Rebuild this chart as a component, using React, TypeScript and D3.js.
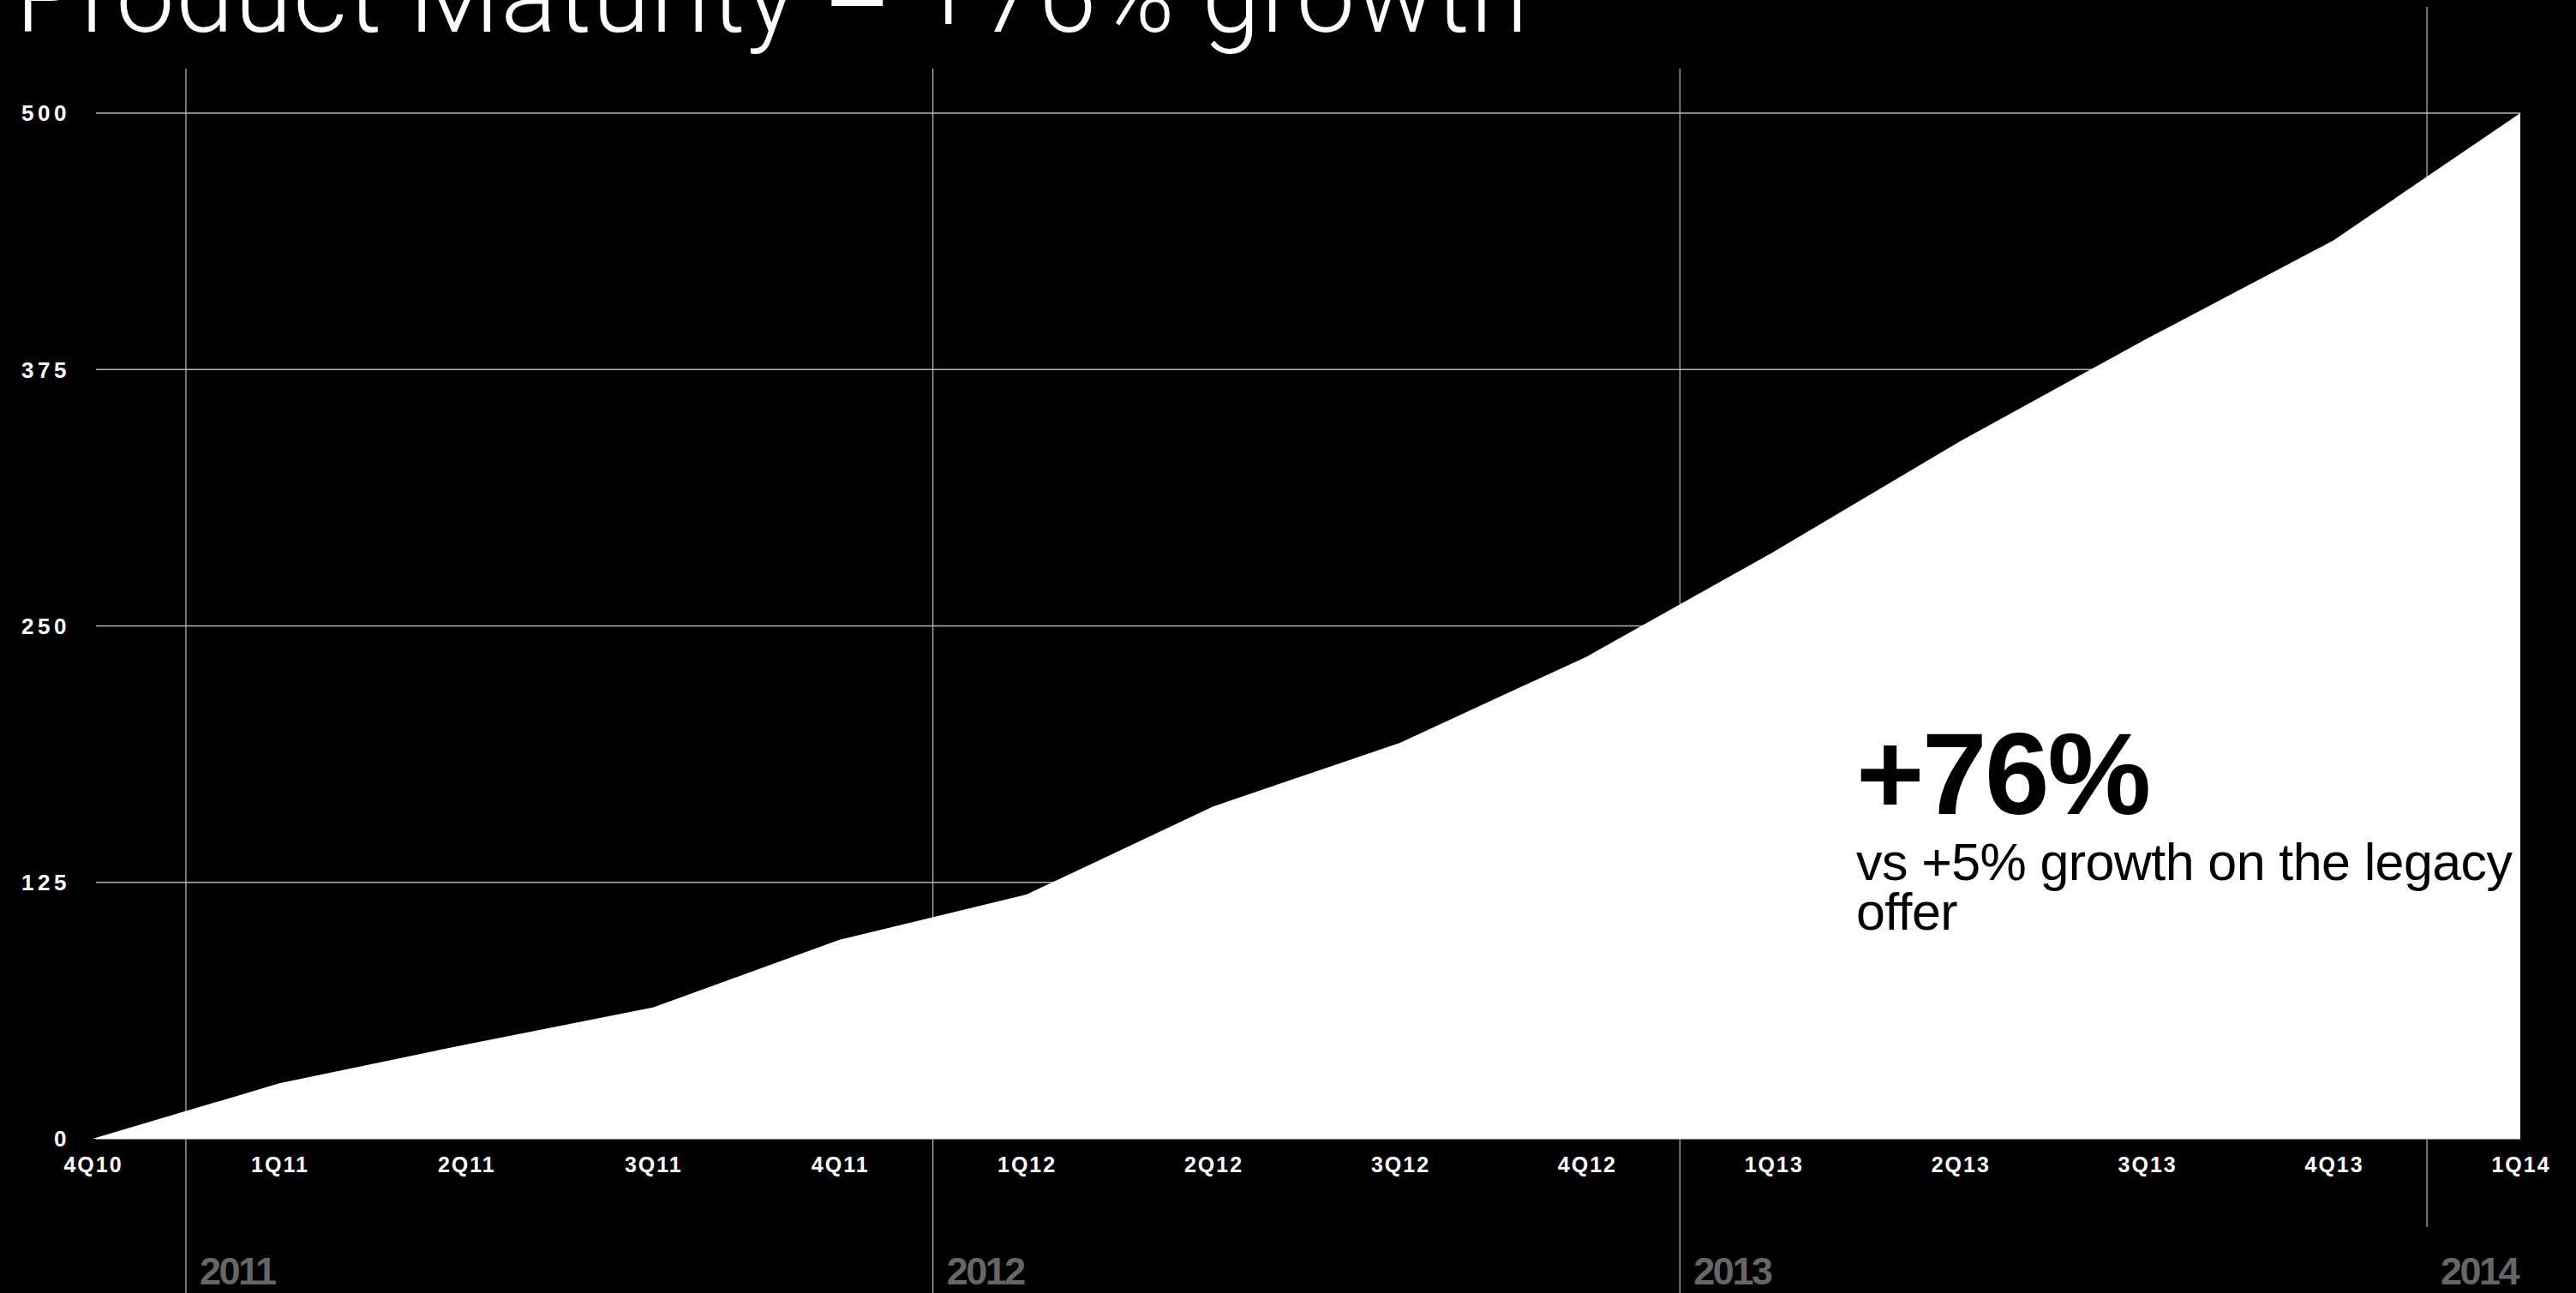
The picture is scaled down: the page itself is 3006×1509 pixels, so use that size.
import React, { useEffect } from "react";
import * as d3 from "d3";

const quarters = ["4Q10","1Q11","2Q11","3Q11","4Q11","1Q12","2Q12","3Q12","4Q12","1Q13","2Q13","3Q13","4Q13","1Q14"];
const values = [0, 27, 46, 64, 97, 119, 162, 193, 235, 286, 340, 390, 438, 500];
const yTicks = [0, 125, 250, 375, 500];
const years = ["2011", "2012", "2013", "2014"];
const yearStartIndex = [1, 5, 9, 13];
const titleParts = ["Product Maturity ", "–", " +76% growth"];
const bigStat = "+76%";
const subLines = ["vs +5% growth on the legacy", "offer"];

const W = 3006;
const H = 1509;

export default function App() {
  useEffect(() => {
    document.body.style.margin = "0";
    document.body.style.background = "#000";
  }, []);

  const x = d3.scaleLinear().domain([0, quarters.length - 1]).range([108, 2941]);
  const y = d3.scaleLinear().domain([0, 500]).range([1329, 132]);

  const area = d3
    .area<number>()
    .x((_, i) => x(i))
    .y0(y(0))
    .y1((d) => y(d))
    .curve(d3.curveLinear);

  const tickFont = "'Liberation Sans', Arial, Helvetica, sans-serif";

  return (
    <svg width={W} height={H} viewBox={`0 0 ${W} ${H}`} style={{ display: "block", background: "#000" }}>
      <rect x={0} y={0} width={W} height={H} fill="#000" />
      {/* title (partly cut off at top) */}
      <text
        x={18}
        y={37}
        fill="#fff"
        fontFamily="Roboto, 'Liberation Sans', sans-serif"
        fontWeight={300}
        fontSize={122}
        textLength={1765}
        lengthAdjust="spacing"
      >
        <tspan>{titleParts[0]}</tspan>
        <tspan dy={9} fontWeight={400}>{titleParts[1]}</tspan>
        <tspan dy={-9}>{titleParts[2]}</tspan>
      </text>

      {/* horizontal gridlines */}
      {yTicks.map((t) => (
        <line key={"g" + t} x1={112} x2={x(quarters.length - 1)} y1={y(t)} y2={y(t)} stroke="#b4b4b4" strokeWidth={1.3} />
      ))}

      {/* year divider lines */}
      {years.map((yr, k) => {
        const xx = x(yearStartIndex[k] - 0.5);
        const last = k === years.length - 1;
        return (
          <line key={"v" + yr} x1={xx} x2={xx} y1={last ? 8 : 80} y2={last ? 1432 : H} stroke="#bdbdbd" strokeWidth={1.2} />
        );
      })}

      {/* area */}
      <path d={area(values) || ""} fill="#fff" />

      {/* y tick labels */}
      {yTicks.map((t) => (
        <text
          key={"yl" + t}
          x={82}
          y={y(t)}
          dy="0.36em"
          textAnchor="end"
          fill="#fff"
          fontFamily={tickFont}
          fontWeight={700}
          fontSize={26}
          letterSpacing={4.5}
        >
          {t}
        </text>
      ))}

      {/* x tick labels */}
      {quarters.map((q, i) => (
        <text
          key={"xl" + q}
          x={x(i) + 1}
          y={1368}
          textAnchor="middle"
          fill="#fff"
          fontFamily={tickFont}
          fontWeight={700}
          fontSize={25}
          letterSpacing={2}
        >
          {q}
        </text>
      ))}

      {/* year labels */}
      {years.map((yr, k) => (
        <text
          key={"yr" + yr}
          x={x(yearStartIndex[k] - 0.5) + 16}
          y={1499}
          fill="#666666"
          fontFamily={tickFont}
          fontWeight={700}
          fontSize={45}
          letterSpacing={-2.5}
        >
          {yr}
        </text>
      ))}

      {/* annotation */}
      <text
        x={2166}
        y={950}
        fill="#000"
        fontFamily={tickFont}
        fontWeight={700}
        fontSize={136}
        letterSpacing={-2.5}
      >
        {bigStat}
      </text>
      {subLines.map((s, i) => (
        <text
          key={"s" + i}
          x={2166}
          y={1027 + i * 58}
          fill="#000"
          fontFamily={tickFont}
          fontWeight={400}
          fontSize={61}
          letterSpacing={-0.6}
        >
          {s}
        </text>
      ))}
    </svg>
  );
}
